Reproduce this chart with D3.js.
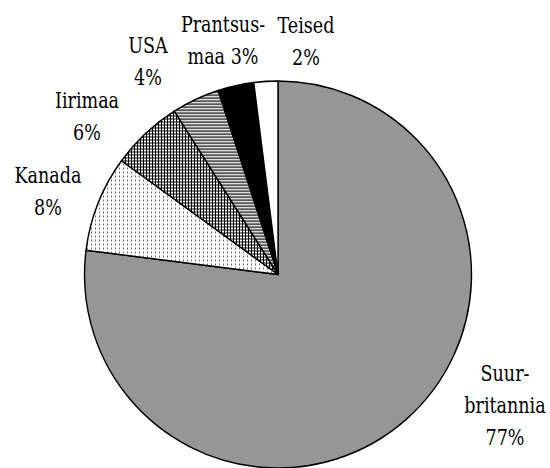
<!DOCTYPE html>
<html>
<head>
<meta charset="utf-8">
<script src="https://cdn.jsdelivr.net/npm/d3@7/dist/d3.min.js"></script>
<style>
  body { margin: 0; background: #fff; }
  svg { display: block; }
</style>
</head>
<body>
<div id="chart"></div>
<script>
// Share of countries (percent), clockwise from 12 o'clock
const categories = ["Suur-britannia", "Kanada", "Iirimaa", "USA", "Prantsusmaa", "Teised"];
const values = [77, 8, 6, 4, 3, 2];
// how each label is broken into lines (the % goes on its own line unless noted)
const labelLines = [["Suur-", "britannia"], ["Kanada"], ["Iirimaa"], ["USA"], ["Prantsus-", "maa"], ["Teised"]];
const pctOnLastLine = [false, false, false, false, true, false];

// layout only: label centre x and first baseline y
const labelPos = [[505, 381], [48, 183], [87, 108], [148, 53], [223, 32], [306, 33]];
const fills = ["#969696", "url(#dots)", "url(#grid)", "url(#hlines)", "#000", "#fff"];

const w = 550;
const h = 468;
const cx = 278;
const cy = 274.5;
const radius = 193.5;
const lineGap = 32;
// only DejaVu Serif renders as a serif here, squeeze it to Times-like width
const serif = "'DejaVu Serif', serif";
const squeeze = 0.78;

const svg = d3.select("#chart").append("svg").attr("width", w).attr("height", h);

// fill patterns like the old Excel ones
const defs = svg.append("defs");
const dots = defs.append("pattern").attr("id", "dots")
  .attr("patternUnits", "userSpaceOnUse").attr("width", 4).attr("height", 4);
dots.append("rect").attr("width", 4).attr("height", 4).attr("fill", "#fff");
dots.append("rect").attr("x", 1).attr("y", 1).attr("width", 1).attr("height", 2).attr("fill", "#6a6a6a");

const grid = defs.append("pattern").attr("id", "grid")
  .attr("patternUnits", "userSpaceOnUse").attr("width", 3).attr("height", 3);
grid.append("rect").attr("width", 3).attr("height", 3).attr("fill", "#fff");
grid.append("rect").attr("width", 3).attr("height", 1).attr("fill", "#000");
grid.append("rect").attr("width", 1).attr("height", 3).attr("fill", "#000");

const hlines = defs.append("pattern").attr("id", "hlines")
  .attr("patternUnits", "userSpaceOnUse").attr("width", 3).attr("height", 3);
hlines.append("rect").attr("width", 3).attr("height", 3).attr("fill", "#fff");
hlines.append("rect").attr("width", 3).attr("height", 1.3).attr("fill", "#000");

const data = categories.map((c, i) => ({ name: c, value: values[i], i: i }));

const pie = d3.pie().sort(null).value((d) => d.value).startAngle(0).endAngle(2 * Math.PI);
const arc = d3.arc().innerRadius(0).outerRadius(radius);

const g = svg.append("g").attr("transform", `translate(${cx}, ${cy})`);

g.selectAll("path")
  .data(pie(data))
  .enter()
  .append("path")
  .attr("d", arc)
  .attr("fill", (d) => fills[d.data.i])
  .attr("stroke", "#000")
  .attr("stroke-width", 1.4)
  .attr("stroke-linejoin", "round");

// labels
data.forEach((d, i) => {
  const lines = labelLines[i].slice();
  if (pctOnLastLine[i]) lines[lines.length - 1] += " " + d.value + "%";
  else lines.push(d.value + "%");
  const t = svg.append("g")
    .attr("transform", `translate(${labelPos[i][0]}, ${labelPos[i][1]}) scale(${squeeze}, 1)`)
    .append("text")
    .attr("text-anchor", "middle")
    .attr("font-family", serif)
    .attr("font-size", 22.5)
    .attr("fill", "#000");
  lines.forEach((ln, k) => {
    t.append("tspan")
      .attr("x", 0)
      .attr("y", k * lineGap)
      .text(ln);
  });
});
</script>
</body>
</html>
